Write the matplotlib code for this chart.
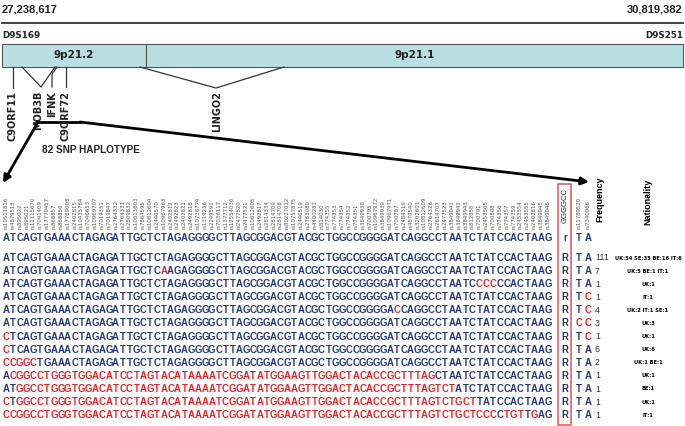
import matplotlib
matplotlib.use("Agg")
import matplotlib.pyplot as plt
from matplotlib.patches import Rectangle

# region shown at the top
start_pos = "27,238,617"
end_pos = "30,819,382"
left_marker = "D9S169"
right_marker = "D9S251"
bands = ["9p21.2", "9p21.1"]
genes = ["C9ORF11", "MOB3B", "IFNK", "C9ORF72", "LINGO2"]

# SNP ids above each column of the haplotype
snp_ids = [
    "rs10511816", "rs4879515", "rs895022", "rs895021", "rs12115670", "rs7041409",
    "rs17779457", "rs868857", "rs868856", "rs17769008", "rs2402815", "rs10435784",
    "rs7046653", "rs10969707", "rs7019351", "rs7019847", "rs2764332", "rs2764331",
    "rs2809832", "rs10813603", "rs7864595", "rs10812604", "rs2440570", "rs10967963",
    "rs2492812", "rs2492823", "rs2402821", "rs2492818", "rs10738774", "rs1319236",
    "rs2249591", "rs7036117", "rs1377712", "rs12554036", "rs2477520", "rs2477521",
    "rs10812605", "rs2492817", "rs2814334", "rs2814709", "rs2814708", "rs80227012",
    "rs10757875", "rs2440519", "rs2783080", "rs4400281", "rs814030", "rs774355",
    "rs774353", "rs774354", "rs774352", "rs774351", "rs3849938", "rs700795",
    "rs10967972", "rs3849939", "rs10967971", "rs700787", "rs2484319", "rs4879540",
    "rs3202601", "rs10812609", "rs2764326", "rs2814707", "rs2477523", "rs3849941",
    "rs3849942", "rs3849943", "rs812858", "rs700791", "rs2453565", "rs700808",
    "rs774356", "rs774357", "rs774359", "rs2453554", "rs2453555", "rs2402816",
    "rs3849945", "rs3849946",
]
tail_ids = ["rs11789520", "rs7340966"]
repeat_label = "GGGGCC"

reference = "ATCAGTGAAACTAGAGATTGCTCTAGAGGGGCTTAGCGGACGTACGCTGGCCGGGGATCAGGCCTAATCTATCCACTAAG"
reference_repeat = "r"
reference_tail = "TA"

haplotypes = [
    "ATCAGTGAAACTAGAGATTGCTCTAGAGGGGCTTAGCGGACGTACGCTGGCCGGGGATCAGGCCTAATCTATCCACTAAG",
    "ATCAGTGAAACTAGAGATTGCTCAAGAGGGGCTTAGCGGACGTACGCTGGCCGGGGATCAGGCCTAATCTATCCACTAAG",
    "ATCAGTGAAACTAGAGATTGCTCTAGAGGGGCTTAGCGGACGTACGCTGGCCGGGGATCAGGCCTAATCCCCCCACTAAG",
    "ATCAGTGAAACTAGAGATTGCTCTAGAGGGGCTTAGCGGACGTACGCTGGCCGGGGATCAGGCCTAATCTATCCACTAAG",
    "ATCAGTGAAACTAGAGATTGCTCTAGAGGGGCTTAGCGGACGTACGCTGGCCGGGGACCAGGCCTAATCTATCCACTAAG",
    "ATCAGTGAAACTAGAGATTGCTCTAGAGGGGCTTAGCGGACGTACGCTGGCCGGGGATCAGGCCTAATCTATCCACTAAG",
    "CTCAGTGAAACTAGAGATTGCTCTAGAGGGGCTTAGCGGACGTACGCTGGCCGGGGATCAGGCCTAATCTATCCACTAAG",
    "CTCAGTGAAACTAGAGATTGCTCTAGAGGGGCTTAGCGGACGTACGCTGGCCGGGGATCAGGCCTAATCTATCCACTAAG",
    "CCGGCTGAAACTAGAGATTGCTCTAGAGGGGCTTAGCGGACGTACGCTGGCCGGGGATCAGGCCTAATCTATCCACTAAG",
    "ACGGCCTGGGTGGACATCCTAGTACATAAAATCGGATATGGAAGTTGGACTACACCGCTTTAGCTAATCTATCCACTAAG",
    "ATGGCCTGGGTGGACATCCTAGTACATAAAATCGGATATGGAAGTTGGACTACACCGCTTTAGTCTATCTATCCACTAAG",
    "CTGGCCTGGGTGGACATCCTAGTACATAAAATCGGATATGGAAGTTGGACTACACCGCTTTAGTCTGCTTATCCACTAAG",
    "CCGGCCTGGGTGGACATCCTAGTACATAAAATCGGATATGGAAGTTGGACTACACCGCTTTAGTCTGCTCCCCTGTTGAG",
]
repeat_calls = ["R"] * 13
tails = ["TA", "TA", "TA", "TC", "TC", "CC", "TC", "TA", "TA", "TA", "TA", "TA", "TA"]
frequency = [111, 7, 1, 1, 4, 3, 1, 6, 2, 1, 1, 1, 1]
nationality = [
    "UK:54 SE:35 BE:16 IT:6", "UK:5 BE:1 IT:1", "UK:1", "IT:1", "UK:2 IT:1 SE:1",
    "UK:3", "UK:1", "UK:6", "UK:1 BE:1", "UK:1", "BE:1", "UK:1", "IT:1",
]

NAVY = "#26387a"
RED = "#e3262b"
DARK = "#222222"

# layout (pixel coords, y grows downward)
X0, PITCH = 6.0, 6.86
REPEAT_X = 565.0
TAIL_X = [579.0, 588.0]
REF_Y = 238.0
ROW0_Y, ROW_STEP = 258.0, 13.1


def col_x(i):
    return X0 + i * PITCH


def draw_ideogram(ax):
    ax.text(2, 9, start_pos, ha="left", va="center", fontsize=8, fontweight="bold",
            family="Liberation Sans", color=DARK)
    ax.text(683, 9, end_pos, ha="right", va="center", fontsize=8, fontweight="bold",
            family="Liberation Sans", color=DARK)
    ax.plot([2, 683], [22.5, 22.5], color="#333333", lw=1.3)
    ax.text(2, 36, left_marker, ha="left", va="center", fontsize=6.3, fontweight="bold", color=DARK)
    ax.text(683, 36, right_marker, ha="right", va="center", fontsize=6.3, fontweight="bold", color=DARK)

    # chromosome bands
    edges = [2, 146, 683]
    for k, name in enumerate(bands):
        ax.add_patch(Rectangle((edges[k], 44), edges[k + 1] - edges[k], 23,
                               facecolor="#b9dfe2", edgecolor="#555555", lw=0.8))
        ax.text((edges[k] + edges[k + 1]) / 2, 55.5, name, ha="center", va="center",
                fontsize=7.5, fontweight="bold", color=DARK)

    # gene ticks under the bar
    lk = dict(color="#333333", lw=0.9)
    ax.plot([13, 13], [67, 88], **lk)
    ax.plot([22, 41, 55], [67, 87, 67], **lk)
    ax.plot([57, 52, 52], [67, 74, 87], **lk)
    ax.plot([66, 66], [67, 87], **lk)
    ax.plot([140, 216, 284], [67, 88, 67], **lk)
    gene_x = [13, 38, 52, 66, 217]
    for g, x in zip(genes, gene_x):
        ax.text(x, 91, g, rotation=90, ha="center", va="top", fontsize=7,
                fontweight="bold", color=DARK)

    # bracket with arrows down to the haplotype table
    ax.plot([38, 80], [122, 122], color="black", lw=2)
    ax.annotate("", xy=(3, 183), xytext=(38, 122),
                arrowprops=dict(arrowstyle="-|>", color="black", lw=2, mutation_scale=11,
                                shrinkA=0, shrinkB=0))
    ax.annotate("", xy=(589, 182), xytext=(80, 122),
                arrowprops=dict(arrowstyle="-|>", color="black", lw=2, mutation_scale=11,
                                shrinkA=0, shrinkB=0))
    ax.text(42, 150, "82 SNP HAPLOTYPE", ha="left", va="center", fontsize=7.2,
            fontweight="bold", family="Liberation Sans", color=DARK)


def draw_row(ax, seq, y, repeat, tail, ref_tail):
    letter = dict(ha="center", va="center", fontsize=6.9, fontweight="bold",
                  family="Liberation Sans")
    for i, ch in enumerate(seq):
        c = NAVY if ch == reference[i] else RED
        ax.text(col_x(i), y, ch, color=c, **letter)
    ax.text(REPEAT_X, y, repeat, color=NAVY, **letter)
    for x, ch, rch in zip(TAIL_X, tail, ref_tail):
        ax.text(x, y, ch, color=NAVY if ch == rch else RED, **letter)


def draw_haplotypes(ax):
    lab = dict(rotation=90, ha="center", va="bottom", fontsize=3.9, color="#555555")
    for i, name in enumerate(snp_ids):
        ax.text(col_x(i), 229, name, **lab)
    for x, name in zip(TAIL_X, tail_ids):
        ax.text(x, 229, name, **lab)
    ax.text(REPEAT_X, 223, repeat_label, rotation=90, ha="center", va="bottom",
            fontsize=5.6, family="Liberation Sans", color=DARK)
    ax.add_patch(Rectangle((558.5, 184), 13, 241, fill=False, edgecolor="#e05555", lw=1.1))

    ax.text(600, 222, "Frequency", rotation=90, ha="center", va="bottom", fontsize=6.5,
            fontweight="bold", family="Liberation Sans", color="black")
    ax.text(648, 225, "Nationality", rotation=90, ha="center", va="bottom", fontsize=6.5,
            fontweight="bold", family="Liberation Sans", color="black")

    draw_row(ax, reference, REF_Y, reference_repeat, reference_tail, reference_tail)
    for r, seq in enumerate(haplotypes):
        y = ROW0_Y + r * ROW_STEP
        draw_row(ax, seq, y, repeat_calls[r], tails[r], reference_tail)
        ax.text(595, y, str(frequency[r]), ha="left", va="center", fontsize=6.3,
                family="Liberation Sans", color="#333333")
        ax.text(648, y, nationality[r], ha="center", va="center", fontsize=3.7,
                fontweight="bold", color="black")


fig = plt.figure(figsize=(6.85, 4.26), dpi=100)
ax = fig.add_axes([0, 0, 1, 1])
ax.set_xlim(0, 685)
ax.set_ylim(426, 0)
ax.axis("off")

draw_ideogram(ax)
draw_haplotypes(ax)

fig.savefig("out.png", dpi=100, facecolor="white")
